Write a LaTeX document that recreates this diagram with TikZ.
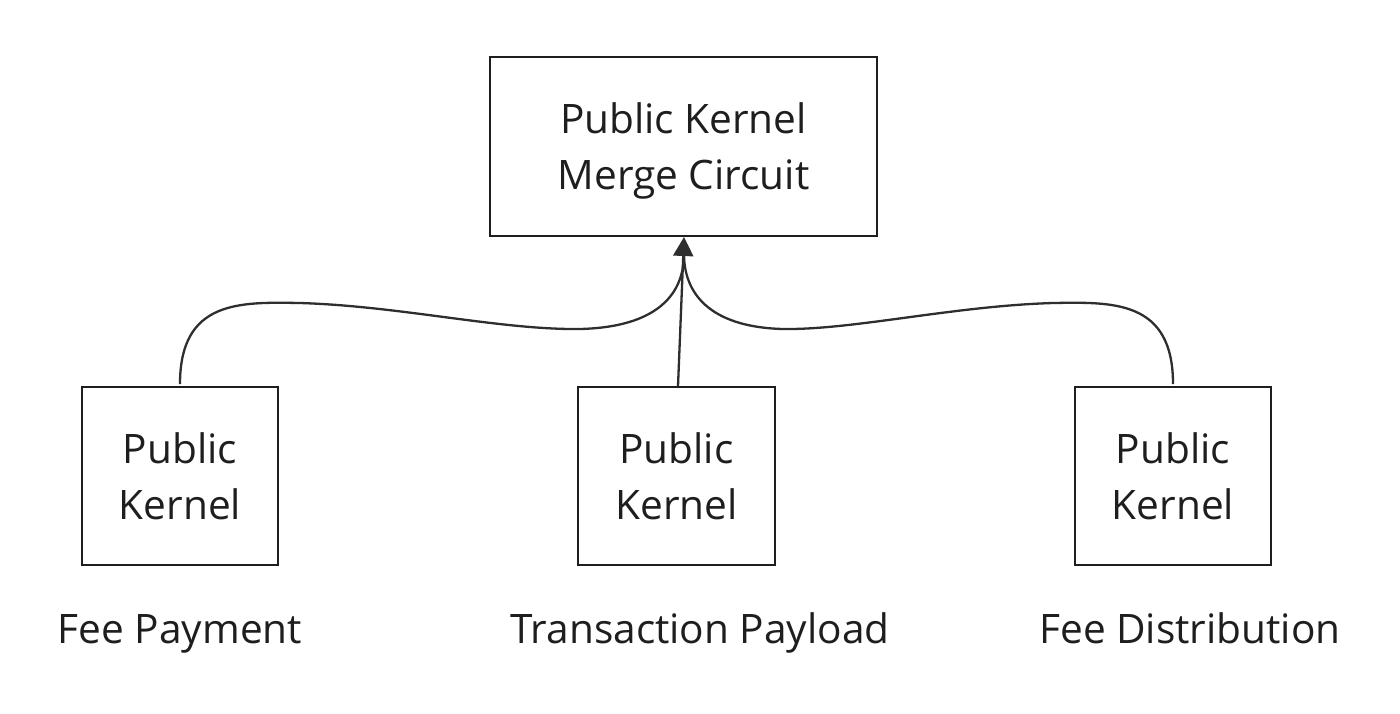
\documentclass[tikz,border=0pt]{standalone}
\usepackage{fontspec}
\setmainfont{Open Sans}
\usetikzlibrary{arrows.meta}
\definecolor{ink}{HTML}{1E1E1E}
\definecolor{wire}{HTML}{2E2E2E}
\tikzset{
    x=1pt,
    y=-1pt,
    block/.style = {
        draw=ink,
        shape=rectangle,
        line width=2pt,
        align=center,
        inner sep=0pt,
        text=ink,
        font=\fontsize{40.6}{56}\selectfont
    },
    tag/.style = {
        shape=rectangle,
        inner sep=0pt,
        anchor=base,
        text=ink,
        font=\fontsize{40.6}{48}\selectfont
    },
    link/.style = {
        draw=wire,
        line width=2.3pt
    },
    >={Triangle[length=19pt,width=20pt]},
}
\begin{document}
\begin{tikzpicture}
    \useasboundingbox (0,0) rectangle (1400,713);
    \node[block, text depth=0pt, minimum width=387, minimum height=179] (merge) at (683.5,146.5) {Public Kernel\\Merge Circuit};
    \node[block, minimum width=196, minimum height=178] (pay) at (180,476) {Public\\Kernel};
    \node[block, minimum width=197, minimum height=178] (tx) at (676.5,476) {Public\\Kernel};
    \node[block, minimum width=196, minimum height=178] (dist) at (1173,476) {Public\\Kernel};

    \node[tag] (paytag) at (180,643) {Fee Payment};
    \node[tag] (txtag) at (700,643) {Transaction Payload};
    \node[tag] (disttag) at (1190,643) {Fee Distribution};

    \coordinate (tip) at (684,237);
    \coordinate (paystart) at (180,384);
    \coordinate (diststart) at (1173,384);
    \path[link] (paystart) .. controls (180,300) and (240,302) .. (300,303)
        .. controls (400,306) and (500,330) .. (580,329)
        .. controls (660,327) and (684,292) .. (684,254);
    \path[link] (diststart) .. controls (1173,300) and (1113,302) .. (1053,303)
        .. controls (953,306) and (853,330) .. (783,329)
        .. controls (708,327) and (684,292) .. (684,254);
    \path[link, ->] (tx.north -| 678,0) -- (tip);
\end{tikzpicture}
\end{document}
